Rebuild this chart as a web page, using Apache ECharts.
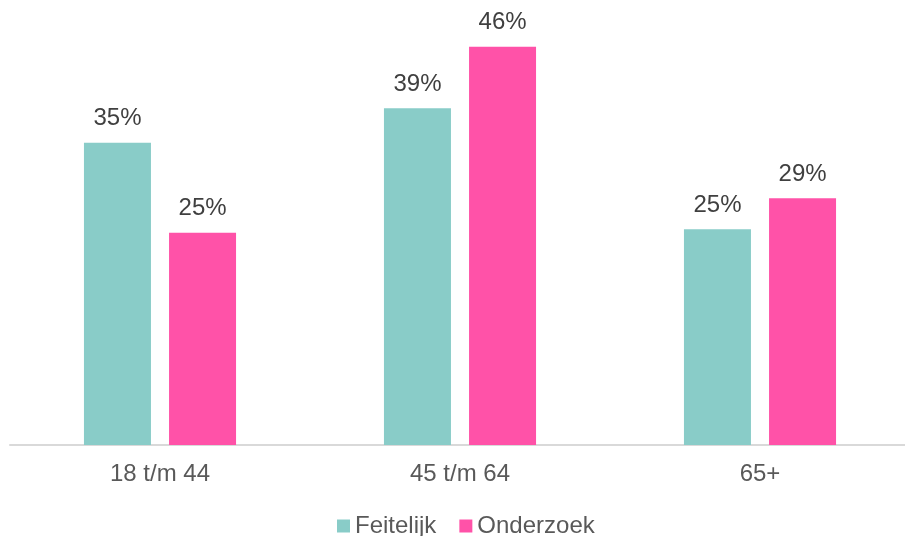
<!DOCTYPE html>
<html>
<head>
<meta charset="utf-8">
<script src="https://cdn.jsdelivr.net/npm/echarts@6/dist/echarts.min.js"></script>
<style>
  html, body { margin: 0; padding: 0; background: #fff; overflow: hidden; }
  #chart { width: 911px; height: 536px; }
</style>
</head>
<body>
<div id="chart"></div>
<script>
const categories = ['18 t/m 44', '45 t/m 64', '65+']
const feitelijk = [34.9, 38.9, 24.9]
const onderzoek = [24.5, 46.0, 28.5]

const teal = '#89ccc8'
const pink = '#ff52a8'
const font = '"Liberation Sans", Arial, sans-serif'

const chart = echarts.init(document.getElementById('chart'))

const labelStyle = {
  show: true,
  position: 'top',
  distance: 12,
  color: '#404040',
  fontSize: 24,
  fontFamily: font,
  formatter: p => Math.round(p.value) + '%',
}

chart.setOption({
  animation: false,
  legend: {
    data: ['Feitelijk', 'Onderzoek'],
    top: 509,
    left: 332,
    icon: 'rect',
    itemWidth: 13,
    itemHeight: 13,
    itemGap: 23,
    textStyle: { color: '#595959', fontSize: 24, fontFamily: font },
  },
  grid: {
    left: 10,
    right: 1,
    top: 12,
    bottom: 91,
  },
  xAxis: {
    type: 'category',
    data: categories,
    axisLine: { lineStyle: { color: '#d9d9d9', width: 2 } },
    axisTick: { show: false },
    axisLabel: { color: '#595959', fontSize: 24, fontFamily: font, margin: 17 },
  },
  yAxis: {
    type: 'value',
    min: 0,
    max: 50,
    show: false,
    splitLine: { show: false },
  },
  series: [
    {
      name: 'Feitelijk',
      type: 'bar',
      data: feitelijk,
      barWidth: 67,
      barGap: '27%',
      itemStyle: { color: teal },
      label: labelStyle,
    },
    {
      name: 'Onderzoek',
      type: 'bar',
      data: onderzoek,
      barWidth: 67,
      barGap: '27%',
      itemStyle: { color: pink },
      label: labelStyle,
    },
  ],
})
</script>
</body>
</html>
